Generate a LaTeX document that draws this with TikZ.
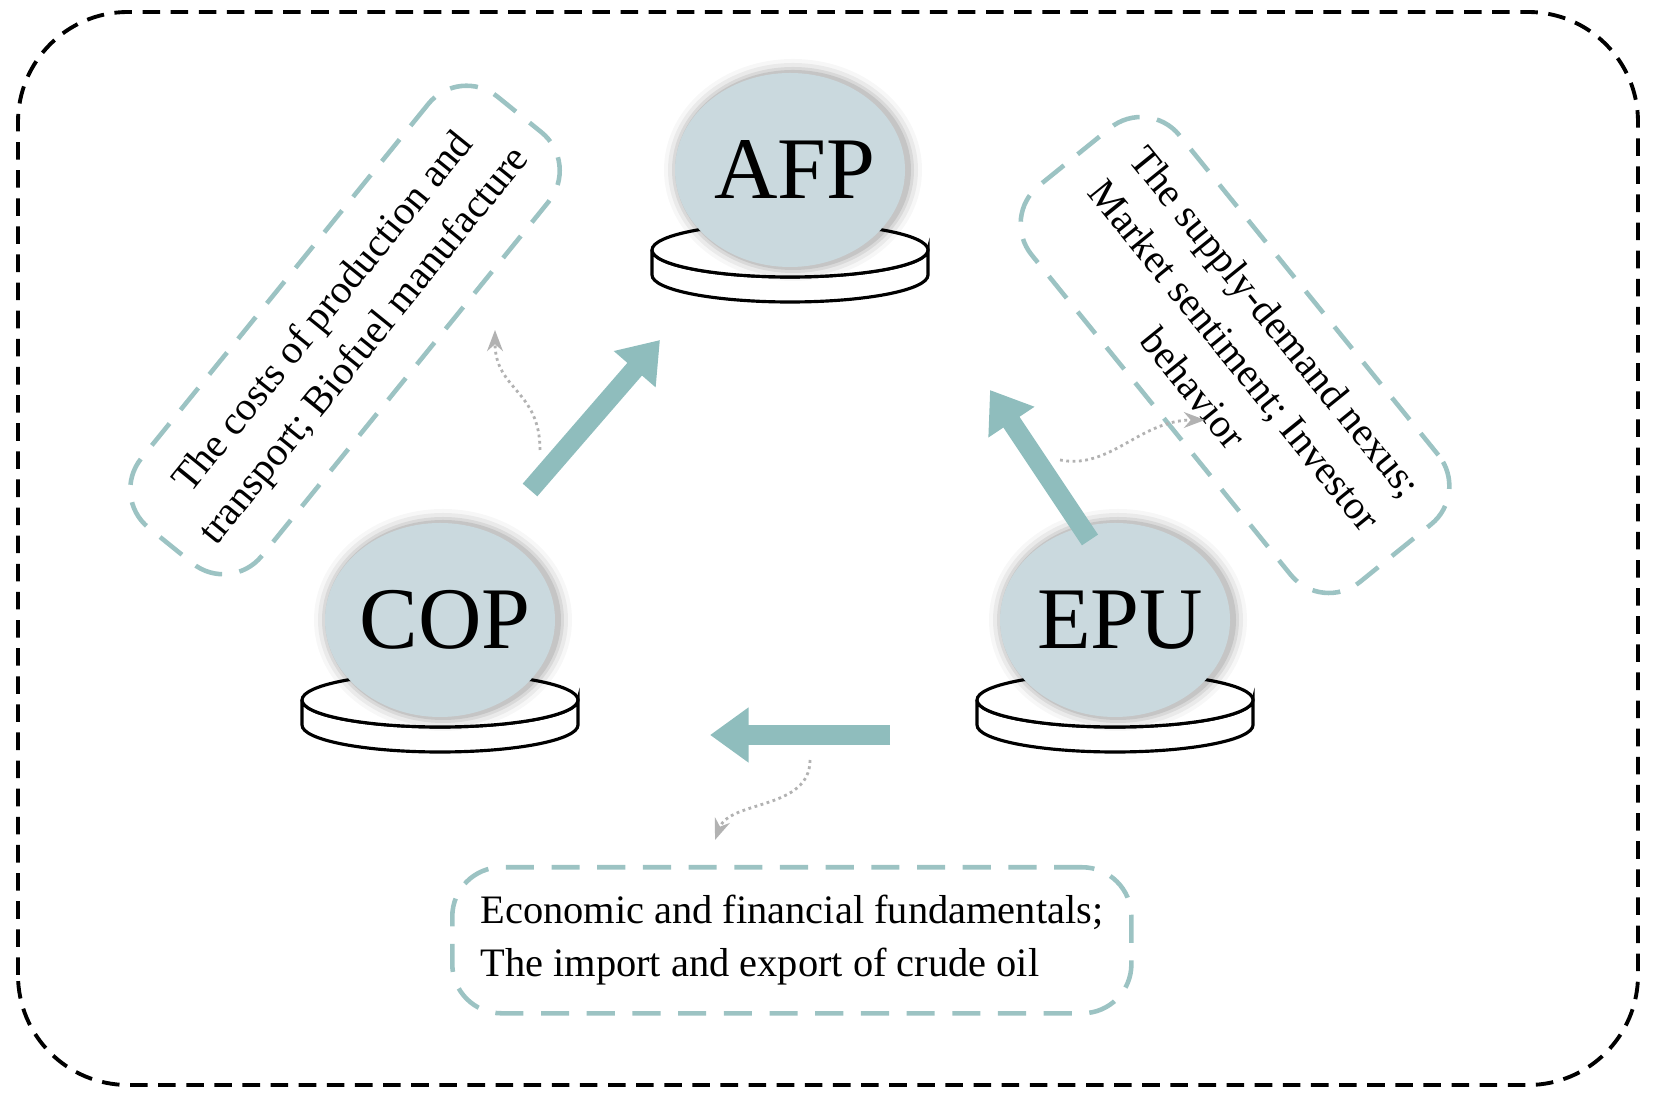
\documentclass[tikz,border=0pt]{standalone}
\usepackage{fontspec}
\setmainfont{Liberation Serif}
\usetikzlibrary{arrows.meta,shapes.geometric}
\definecolor{teal1}{HTML}{8FBDBD}
\definecolor{ball}{HTML}{CAD9DE}
\definecolor{dbox}{HTML}{9CC3C3}
\tikzset{
 bigarrow/.style={line width=5.5pt,teal1,-{Triangle[length=11pt,width=15pt]}},
 dotarr/.style={densely dotted,gray!60,thick,-{Stealth[length=6pt]}},
 dbx/.style={draw=dbox,line width=1.3pt,rounded corners=14pt,dash pattern=on 8pt off 5pt,align=center,font=\fontsize{11.5pt}{15pt}\selectfont,inner sep=8pt},
 lbl/.style={font=\fontsize{25pt}{27pt}\selectfont,inner sep=0pt}
}
\newcommand{\pedestal}[4]{% name, x, y
 \begin{scope}[shift={(#2,#3)}]
  \fill[white,draw=black,line width=0.9pt] (-1.38,-0.8) -- (-1.38,-1.05) arc[start angle=180,end angle=360,x radius=1.38,y radius=0.27] -- (1.38,-0.8) arc[start angle=0,end angle=-180,x radius=1.38,y radius=0.27];
  \draw[fill=white,line width=0.9pt] (0,-0.8) ellipse[x radius=1.38,y radius=0.27];
  \foreach \i/\o in {0.14/0.03,0.10/0.05,0.06/0.07,0.03/0.09}{\fill[black,opacity=\o] (0.03,0) ellipse[x radius=1.15+\i,y radius=0.97+\i];}
  \fill[ball] (0,0) ellipse[x radius=1.15,y radius=0.97];
  \node[lbl] (#1) at (0.05,0) {#1};
 \end{scope}}
\begin{document}
\begin{tikzpicture}[x=1cm,y=1cm]
\useasboundingbox (0,0) rectangle (16.54,11);
\draw[line width=1.1pt,rounded corners=1.1cm,dash pattern=on 5pt off 3pt] (0.18,0.15) rectangle (16.38,10.88);
\pedestal{AFP}{7.9}{9.3}{}
\pedestal{COP}{4.4}{4.8}{}
\pedestal{EPU}{11.15}{4.8}{}
\coordinate (a1) at (5.3,6.1); \coordinate (a2) at (6.6,7.6);
\coordinate (b1) at (10.9,5.6); \coordinate (b2) at (9.9,7.1);
\coordinate (c1) at (8.9,3.65); \coordinate (c2) at (7.1,3.65);
\draw[bigarrow] (a1) -- (a2);
\draw[bigarrow] (b1) -- (b2);
\draw[bigarrow] (c1) -- (c2);
\node[dbx,rotate=51,minimum width=5.3cm,minimum height=1.55cm] (L) at (3.45,7.7) {The costs of production and\\transport; Biofuel manufacture};
\node[dbx,rotate=-51,minimum width=5.1cm,minimum height=1.55cm] (R) at (12.35,7.45) {The supply-demand nexus;\\Market sentiment; Investor\\behavior};
\node[dbx,align=left,minimum width=6.2cm,minimum height=1.4cm,anchor=north west] (B) at (4.5,2.35) {Economic and financial fundamentals;\\The import and export of crude oil};
\coordinate (l1) at (5.4,6.5); \coordinate (l2) at (4.95,7.7);
\coordinate (r1) at (10.6,6.4); \coordinate (r2) at (12.05,6.8);
\coordinate (d1) at (8.1,3.4); \coordinate (d2) at (7.15,2.6);
\draw[dotarr] (l1) .. controls (5.4,7.1) and (4.95,7.1) .. (l2);
\draw[dotarr] (r1) .. controls (11.1,6.3) and (11.4,6.8) .. (r2);
\draw[dotarr] (d1) .. controls (8.1,2.9) and (7.3,3.0) .. (d2);
\end{tikzpicture}
\end{document}
